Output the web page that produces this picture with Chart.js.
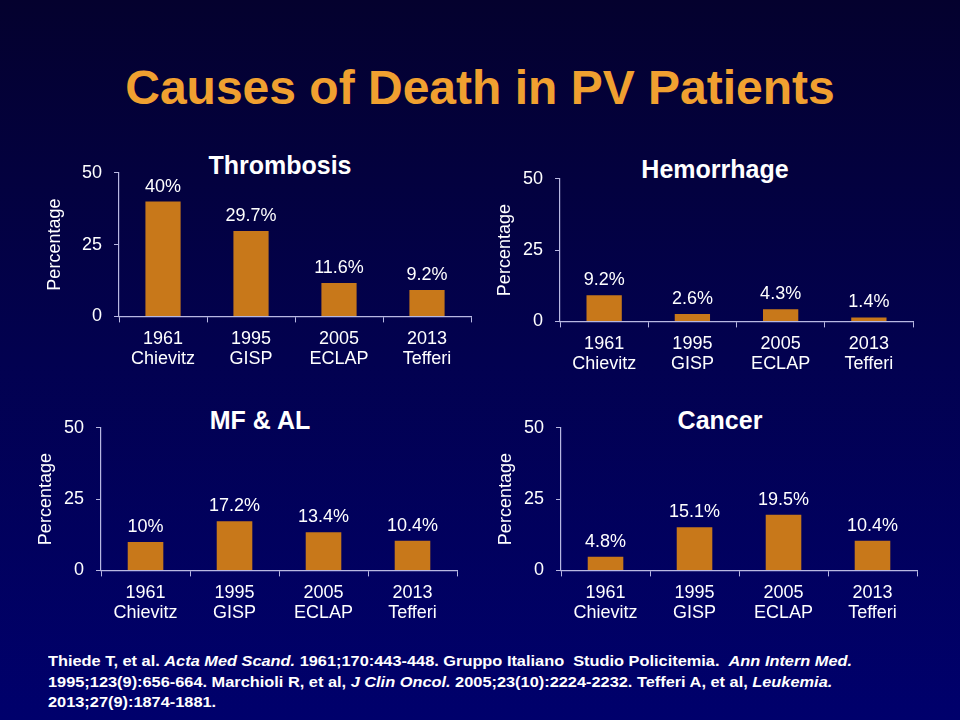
<!DOCTYPE html>
<html>
<head>
<meta charset="utf-8">
<script src="https://cdn.jsdelivr.net/npm/chart.js@4.4.1/dist/chart.umd.min.js"></script>
<style>
  html, body { margin: 0; padding: 0; }
  body {
    width: 960px; height: 720px; overflow: hidden; position: relative;
    background: linear-gradient(to bottom, #04012e 0%, #020150 50%, #00006c 100%);
    font-family: "Liberation Sans", Arial, sans-serif;
  }
  .title {
    position: absolute; left: 0; width: 960px; top: 61px; text-align: center;
    color: #f0a030; font-weight: bold; font-size: 48px; line-height: 54px;
  }
  .sub {
    position: absolute; width: 300px; margin-left: -150px; text-align: center;
    color: #fff; font-weight: bold; font-size: 25px; line-height: 30px;
  }
  .box { position: absolute; }
  .cite {
    position: absolute; left: 48px; top: 651px; color: #fff;
    font-family: "Liberation Sans", Arial, sans-serif;
    font-weight: bold; font-size: 15px; line-height: 20.5px; white-space: nowrap;
    transform: scaleX(1.09); transform-origin: left top;
  }
</style>
</head>
<body>
<div class="title">Causes of Death in PV Patients</div>

<div class="sub" style="left:280px; top:150px;">Thrombosis</div>
<div class="sub" style="left:715px; top:154px;">Hemorrhage</div>
<div class="sub" style="left:260px; top:405px;">MF &amp; AL</div>
<div class="sub" style="left:720px; top:405px;">Cancer</div>

<div class="box" style="left:40px; top:150px; width:440px; height:230px;"><canvas id="c1"></canvas></div>
<div class="box" style="left:481px; top:156px; width:441px; height:229px;"><canvas id="c2"></canvas></div>
<div class="box" style="left:22px; top:405px; width:444px; height:229px;"><canvas id="c3"></canvas></div>
<div class="box" style="left:482px; top:405px; width:444px; height:229px;"><canvas id="c4"></canvas></div>

<div class="cite">
Thiede T, et al. <i>Acta Med Scand.</i> 1961;170:443-448. Gruppo Italiano&nbsp; Studio Policitemia.&nbsp; <i>Ann Intern Med.</i><br>
1995;123(9):656-664. Marchioli R, et al, <i>J Clin Oncol.</i> 2005;23(10):2224-2232. Tefferi A, et al, <i>Leukemia.</i><br>
2013;27(9):1874-1881.
</div>

<script>
const categories = [["1961", "Chievitz"], ["1995", "GISP"], ["2005", "ECLAP"], ["2013", "Tefferi"]];
const thrombosis = [40, 29.7, 11.6, 9.2];
const hemorrhage = [9.2, 2.6, 4.3, 1.4];
const mfAl = [10, 17.2, 13.4, 10.4];
const cancer = [4.8, 15.1, 19.5, 10.4];
const yTicks = [0, 25, 50];

const font = "'Liberation Sans', Arial, sans-serif";
const axisColor = "#b8b8e2";
const barColor = "#c8781a";

// value labels above each bar
const barLabels = {
  id: "barLabels",
  afterDatasetsDraw(chart) {
    const ctx = chart.ctx;
    const meta = chart.getDatasetMeta(0);
    ctx.save();
    ctx.fillStyle = "#ffffff";
    ctx.font = "18px " + font;
    ctx.textAlign = "center";
    ctx.textBaseline = "alphabetic";
    meta.data.forEach((bar, i) => {
      const v = chart.data.datasets[0].data[i];
      ctx.fillText(v + "%", bar.x, bar.y - 10);
    });
    ctx.restore();
  },
};

function makeChart(id, values, titleTop, titleBottom) {
  const ctx = document.getElementById(id);
  return new Chart(ctx, {
    type: "bar",
    data: {
      labels: categories,
      datasets: [
        {
          data: values,
          backgroundColor: barColor,
          borderWidth: 0,
          barPercentage: 0.4,
          categoryPercentage: 1,
        },
      ],
    },
    options: {
      responsive: true,
      maintainAspectRatio: false,
      animation: false,
      layout: { padding: { left: 2, top: 18, right: 9, bottom: 4 } },
      plugins: { legend: { display: false }, tooltip: { enabled: false } },
      scales: {
        x: {
          grid: {
            display: true,
            drawOnChartArea: false,
            drawTicks: true,
            tickLength: 6,
            color: axisColor,
          },
          border: { color: axisColor, width: 1.2 },
          ticks: {
            color: "#ffffff",
            padding: 7,
            maxRotation: 0,
            font: { family: font, size: 18, lineHeight: 1.1 },
          },
        },
        y: {
          min: 0,
          max: 50,
          afterBuildTicks: (scale) => {
            scale.ticks = yTicks.map((v) => ({ value: v }));
          },
          grid: {
            display: true,
            drawOnChartArea: false,
            drawTicks: true,
            tickLength: 5,
            color: axisColor,
          },
          border: { color: axisColor, width: 1.2 },
          ticks: {
            color: "#ffffff",
            padding: 12,
            font: { family: font, size: 18 },
          },
          title: {
            display: true,
            text: "Percentage",
            color: "#ffffff",
            padding: { top: titleTop, bottom: titleBottom },
            font: { family: font, size: 18, lineHeight: 0.6667 },
          },
        },
      },
    },
    plugins: [barLabels],
  });
}

makeChart("c1", thrombosis, 7, 9);
makeChart("c2", hemorrhage, 16, 0);
makeChart("c3", mfAl, 16, 0);
makeChart("c4", cancer, 16, 0);
</script>
</body>
</html>
